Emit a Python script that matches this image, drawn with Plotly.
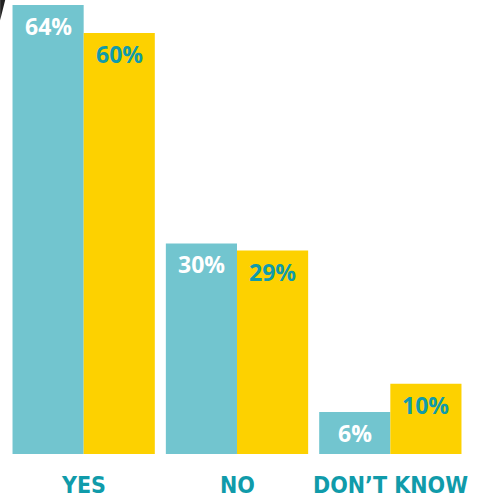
import plotly.graph_objects as go

# data
categories = ["YES", "NO", "DON’T KNOW"]
series_a = [64, 30, 6]
series_b = [60, 29, 10]

TEAL = "#72C5CF"
YELLOW = "#FDD100"
DARK_TEAL = "#109BAA"

fig = go.Figure()
fig.add_trace(go.Bar(x=categories, y=series_a, marker=dict(color=TEAL, line=dict(width=0)),
                     hoverinfo="skip"))
fig.add_trace(go.Bar(x=categories, y=series_b, marker=dict(color=YELLOW, line=dict(width=0)),
                     hoverinfo="skip"))

annots = []
# value labels, just under the top of each bar
for cat, va, vb in zip(categories, series_a, series_b):
    annots.append(dict(x=cat, y=va, text="%d%%" % va, showarrow=False, xshift=-35.5,
                       yshift=-21, yanchor="middle",
                       font=dict(family="Open Sans", size=23, color="white", weight="bold")))
    annots.append(dict(x=cat, y=vb, text="%d%%" % vb, showarrow=False, xshift=35.5,
                       yshift=-21, yanchor="middle",
                       font=dict(family="Open Sans", size=23, color=DARK_TEAL, weight="bold")))
# category labels
for cat in categories:
    annots.append(dict(x=cat, y=0, yref="paper", text=cat, showarrow=False, yanchor="top",
                       yshift=-16,
                       font=dict(family="DejaVu Sans Condensed, DejaVu Sans", size=23,
                                 color=DARK_TEAL, weight="bold")))

fig.update_layout(
    width=477, height=500,
    margin=dict(l=7, r=10, t=0, b=46),
    barmode="group", bargap=0.072, bargroupgap=0,
    plot_bgcolor="white", paper_bgcolor="white",
    showlegend=False,
    xaxis=dict(showticklabels=False, showgrid=False, zeroline=False, showline=False,
               range=[-0.5, 2.5]),
    yaxis=dict(showticklabels=False, showgrid=False, zeroline=False, showline=False,
               range=[0, 64.7]),
    annotations=annots,
    shapes=[dict(type="path", xref="paper", yref="paper",
                 path="M -0.015 1 L -0.004 1 L -0.015 0.955 Z",
                 fillcolor="#222222", line=dict(width=0), layer="above")],
)

fig.write_html("out.html", config={"displayModeBar": False},
               post_script="document.body.style.margin='0';")
